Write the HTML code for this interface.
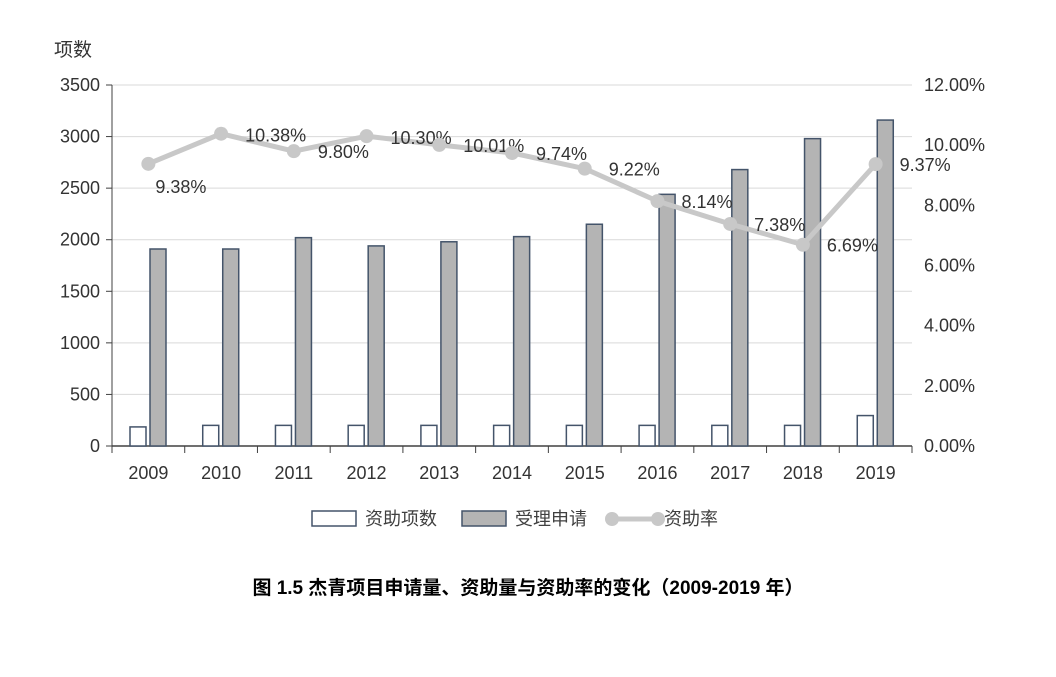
<!DOCTYPE html>
<html><head><meta charset="utf-8"><style>
body{margin:0;background:#fff;width:1056px;height:672px;overflow:hidden}
text{font-family:"Liberation Sans","Noto Sans CJK SC",sans-serif}
</style></head><body>
<svg id="c" width="1056" height="672">
<text x="54" y="56" font-size="19" fill="#333">项数</text>
<text x="528" y="594" font-size="19" font-weight="bold" text-anchor="middle" fill="#000" font-family="'Liberation Serif','Noto Serif CJK SC',serif">图 1.5  杰青项目申请量、资助量与资助率的变化（2009-2019 年）</text>
<g id="g"></g>
</svg>
<script>
const years=['2009','2010','2011','2012','2013','2014','2015','2016','2017','2018','2019'];
const funded=[185,200,200,200,200,200,200,200,200,200,295];
const applied=[1910,1910,2020,1940,1980,2030,2150,2440,2680,2980,3160];
const rate=[9.38,10.38,9.80,10.30,10.01,9.74,9.22,8.14,7.38,6.69,9.37];
const leftTicks=[0,500,1000,1500,2000,2500,3000,3500];
const rightTicks=[0,2,4,6,8,10,12];
const NS='http://www.w3.org/2000/svg',g=document.getElementById('g');
const X0=112,X1=912,Y0=446,Y1=85,cw=(X1-X0)/years.length;
const yL=v=>Y0-v/3500*(Y0-Y1), yR=v=>Y0-v/12*(Y0-Y1);
function mk(t,a,txt){const e=document.createElementNS(NS,t);for(const k in a)e.setAttribute(k,a[k]);if(txt!=null)e.textContent=txt;g.appendChild(e);return e;}
leftTicks.forEach(v=>{
 if(v>0){const l=mk('line',{x1:X0,x2:X1,y1:yL(v),y2:yL(v),stroke:'#d9d9d9','stroke-width':1});
 
 }
 const tk=mk('line',{x1:X0-6,x2:X0,y1:yL(v),y2:yL(v),stroke:'#404040'});
 
 
 const t=mk('text',{x:X0-12,y:yL(v)+6,'font-size':18,'text-anchor':'end',fill:'#333'},v);
 
 
});
rightTicks.forEach(v=>{
 const t=mk('text',{x:X1+12,y:yR(v)+6,'font-size':18,fill:'#333'},v.toFixed(2)+'%');
 
 
});
const ax=mk('line',{x1:X0,x2:X0,y1:Y1,y2:Y0,stroke:'#404040'});


const bx=mk('line',{x1:X0,x2:X1,y1:Y0,y2:Y0,stroke:'#404040','stroke-width':1.5});


for(let i=0;i<=years.length;i++){const t=mk('line',{x1:X0+i*cw,x2:X0+i*cw,y1:Y0,y2:Y0+7,stroke:'#404040'});
 
 }
years.forEach((y,i)=>{
 const cx=X0+i*cw;
 const a=mk('rect',{x:cx+18,y:yL(funded[i]),width:16,height:Y0-yL(funded[i]),fill:'#fff',stroke:'#44546a','stroke-width':1.5});
 
 
 const b=mk('rect',{x:cx+38,y:yL(applied[i]),width:16,height:Y0-yL(applied[i]),fill:'#b4b4b4',stroke:'#44546a','stroke-width':1.5});
 
 
 const t=mk('text',{x:cx+cw/2,y:Y0+33,'font-size':18,'text-anchor':'middle',fill:'#333'},y);
 
 
});
const pts=rate.map((r,i)=>[X0+i*cw+cw/2,yR(r)]);
const pl=mk('polyline',{points:pts.map(p=>p.join(',')).join(' '),fill:'none',stroke:'#c8c8c8','stroke-width':5,'stroke-linejoin':'round'});


pts.forEach((p,i)=>{
 const c=mk('circle',{cx:p[0],cy:p[1],r:7,fill:'#c8c8c8'});
 
 
 const lbl=rate[i].toFixed(2)+'%';
 const t=mk('text',{x:i==0?p[0]+7:p[0]+24,y:i==0?p[1]+29:p[1]+7,'font-size':18,fill:'#333'},lbl);
 if(i==1||i==3)t.setAttribute('y',p[1]+8);
 
 
});
// legend
const L=[['rect',312,'#fff','资助项数'],['rect',462,'#b4b4b4','受理申请']];
L.forEach(l=>{
 const r=mk('rect',{x:l[1],y:511,width:44,height:15,fill:l[2],stroke:'#44546a','stroke-width':1.5});
 
 
 const t=mk('text',{x:l[1]+53,y:525,'font-size':18,fill:'#404040'},l[3]);
 
 
});
const ll=mk('line',{x1:612,x2:658,y1:519,y2:519,stroke:'#c8c8c8','stroke-width':5});


[612,658].forEach(x=>{const c=mk('circle',{cx:x,cy:519,r:7,fill:'#c8c8c8'});
 
 });
const lt=mk('text',{x:664,y:525,'font-size':18,fill:'#404040'},'资助率');


</script>
</body></html>
